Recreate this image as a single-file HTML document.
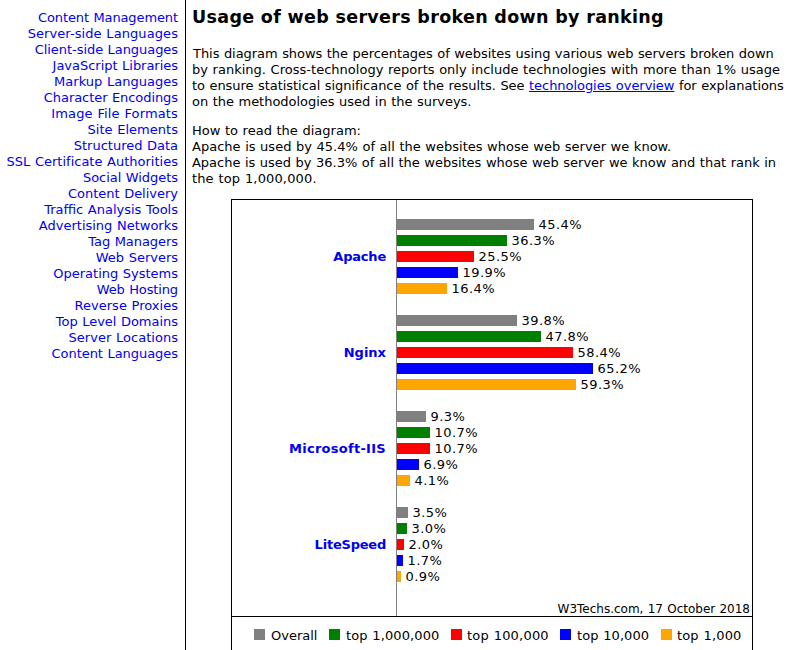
<!DOCTYPE html>
<html>
<head>
<meta charset="utf-8">
<title>Usage of web servers broken down by ranking</title>
<style>
html,body{margin:0;padding:0;background:#fff;}
body{width:790px;height:650px;overflow:hidden;position:relative;font-family:"DejaVu Sans","Liberation Sans",sans-serif;font-size:13px;line-height:16px;color:#000;word-spacing:0.44px;}
a{color:#0000ee;}
#side{position:absolute;left:0;top:10px;width:178px;text-align:right;}
#side a{display:block;height:16px;line-height:16px;text-decoration:none;white-space:nowrap;}
#vline{position:absolute;left:185px;top:0;width:1px;height:650px;background:#000;}
#main{position:absolute;left:192px;top:0;width:598px;}
h1{position:absolute;left:0;top:5px;margin:0;font-size:17.5px;line-height:24px;font-weight:bold;white-space:nowrap;word-spacing:0;}
.p{position:absolute;left:0;white-space:nowrap;}
.p div{height:16px;line-height:16px;}
#p1{top:46px;}
#p2{top:123px;}
#chart{position:absolute;left:231px;top:199px;width:520px;height:460px;border:1px solid #000;}
#axis{position:absolute;left:396px;top:200px;width:1px;height:416px;background:#808080;}
#hline{position:absolute;left:232px;top:616px;width:520px;height:1px;background:#000;}
.bar{position:absolute;left:397px;height:11px;}
.g{background:#808080;}.gr{background:#008000;}.r{background:#ff0000;}.b{background:#0000ff;}.o{background:#ffa500;}
.v{position:absolute;height:16px;line-height:16px;white-space:nowrap;}
.n{position:absolute;left:200px;width:186px;text-align:right;font-weight:bold;height:16px;line-height:16px;white-space:nowrap;}
.n a{text-decoration:none;}
#credit{position:absolute;left:500px;width:250px;text-align:right;top:601px;font-size:12px;line-height:16px;white-space:nowrap;}
.lg{position:absolute;top:629px;width:11px;height:11px;}
.lt{position:absolute;top:628px;height:16px;line-height:16px;white-space:nowrap;}
</style>
</head>
<body>
<div id="side">
<a href="#" style="letter-spacing:-0.106px;">Content Management</a>
<a href="#" style="letter-spacing:0.081px;">Server-side Languages</a>
<a href="#" style="letter-spacing:-0.057px;">Client-side Languages</a>
<a href="#" style="letter-spacing:-0.025px;">JavaScript Libraries</a>
<a href="#" style="letter-spacing:0.019px;">Markup Languages</a>
<a href="#" style="letter-spacing:-0.068px;">Character Encodings</a>
<a href="#" style="letter-spacing:0.139px;">Image File Formats</a>
<a href="#" style="letter-spacing:0.023px;">Site Elements</a>
<a href="#" style="letter-spacing:-0.007px;">Structured Data</a>
<a href="#" style="letter-spacing:0.007px;">SSL Certificate Authorities</a>
<a href="#" style="letter-spacing:-0.043px;">Social Widgets</a>
<a href="#" style="letter-spacing:-0.012px;">Content Delivery</a>
<a href="#">Traffic Analysis Tools</a>
<a href="#">Advertising Networks</a>
<a href="#" style="letter-spacing:-0.058px;">Tag Managers</a>
<a href="#" style="letter-spacing:-0.009px;">Web Servers</a>
<a href="#" style="letter-spacing:-0.006px;">Operating Systems</a>
<a href="#" style="letter-spacing:-0.127px;">Web Hosting</a>
<a href="#" style="letter-spacing:0.027px;">Reverse Proxies</a>
<a href="#" style="letter-spacing:-0.024px;">Top Level Domains</a>
<a href="#" style="letter-spacing:0.031px;">Server Locations</a>
<a href="#" style="letter-spacing:-0.041px;">Content Languages</a>
</div>
<div id="vline"></div>
<div id="main">
<h1 style="letter-spacing:0.319px;">Usage of web servers broken down by ranking</h1>
<div class="p" id="p1">
<div style="padding-left:1px;letter-spacing:-0.049px;">This diagram shows the percentages of websites using various web servers broken down</div>
<div style="letter-spacing:0.016px;">by ranking. Cross-technology reports only include technologies with more than 1% usage</div>
<div style="letter-spacing:-0.048px;">to ensure statistical significance of the results. See <a href="#">technologies overview</a> for explanations</div>
<div style="letter-spacing:-0.024px;">on the methodologies used in the surveys.</div>
</div>
<div class="p" id="p2">
<div style="letter-spacing:0.008px;">How to read the diagram:</div>
<div style="letter-spacing:0.009px;">Apache is used by 45.4% of all the websites whose web server we know.</div>
<div style="letter-spacing:-0.019px;">Apache is used by 36.3% of all the websites whose web server we know and that rank in</div>
<div style="letter-spacing:0.144px;">the top 1,000,000.</div>
</div>
</div>
<div id="chart"></div>
<div id="axis"></div>
<div id="hline"></div>
<div id="bars">
<div class="n" style="top:249px;letter-spacing:-0.200px;"><a href="#">Apache</a></div>
<div class="bar g" style="top:219px;width:137px"></div><div class="v" style="left:538.6px;top:217px;letter-spacing:0.400px;">45.4%</div>
<div class="bar gr" style="top:235px;width:110px"></div><div class="v" style="left:511.6px;top:233px;letter-spacing:0.400px;">36.3%</div>
<div class="bar r" style="top:251px;width:77px"></div><div class="v" style="left:478.6px;top:249px;letter-spacing:0.400px;">25.5%</div>
<div class="bar b" style="top:267px;width:61px"></div><div class="v" style="left:462.6px;top:265px;letter-spacing:0.400px;">19.9%</div>
<div class="bar o" style="top:283px;width:50px"></div><div class="v" style="left:451.6px;top:281px;letter-spacing:0.400px;">16.4%</div>
<div class="n" style="top:345px;"><a href="#">Nginx</a></div>
<div class="bar g" style="top:315px;width:120px"></div><div class="v" style="left:521.6px;top:313px;letter-spacing:0.400px;">39.8%</div>
<div class="bar gr" style="top:331px;width:144px"></div><div class="v" style="left:545.6px;top:329px;letter-spacing:0.400px;">47.8%</div>
<div class="bar r" style="top:347px;width:176px"></div><div class="v" style="left:577.6px;top:345px;letter-spacing:0.400px;">58.4%</div>
<div class="bar b" style="top:363px;width:196px"></div><div class="v" style="left:597.6px;top:361px;letter-spacing:0.400px;">65.2%</div>
<div class="bar o" style="top:379px;width:179px"></div><div class="v" style="left:580.6px;top:377px;letter-spacing:0.400px;">59.3%</div>
<div class="n" style="top:441px;letter-spacing:0.280px;"><a href="#">Microsoft-IIS</a></div>
<div class="bar g" style="top:411px;width:29px"></div><div class="v" style="left:430.6px;top:409px;letter-spacing:0.400px;">9.3%</div>
<div class="bar gr" style="top:427px;width:33px"></div><div class="v" style="left:434.6px;top:425px;letter-spacing:0.400px;">10.7%</div>
<div class="bar r" style="top:443px;width:33px"></div><div class="v" style="left:434.6px;top:441px;letter-spacing:0.400px;">10.7%</div>
<div class="bar b" style="top:459px;width:22px"></div><div class="v" style="left:423.6px;top:457px;letter-spacing:0.400px;">6.9%</div>
<div class="bar o" style="top:475px;width:13px"></div><div class="v" style="left:414.6px;top:473px;letter-spacing:0.400px;">4.1%</div>
<div class="n" style="top:537px;letter-spacing:-0.220px;"><a href="#">LiteSpeed</a></div>
<div class="bar g" style="top:507px;width:11px"></div><div class="v" style="left:412.6px;top:505px;letter-spacing:0.400px;">3.5%</div>
<div class="bar gr" style="top:523px;width:10px"></div><div class="v" style="left:411.6px;top:521px;letter-spacing:0.400px;">3.0%</div>
<div class="bar r" style="top:539px;width:7px"></div><div class="v" style="left:408.6px;top:537px;letter-spacing:0.400px;">2.0%</div>
<div class="bar b" style="top:555px;width:6px"></div><div class="v" style="left:407.6px;top:553px;letter-spacing:0.400px;">1.7%</div>
<div class="bar o" style="top:571px;width:4px"></div><div class="v" style="left:405.6px;top:569px;letter-spacing:0.400px;">0.9%</div>
<div id="credit">W3Techs.com, 17 October 2018</div>
<div class="lg g" style="left:254px"></div><div class="lt" style="left:271px;">Overall</div>
<div class="lg gr" style="left:329px"></div><div class="lt" style="left:346px;letter-spacing:0.110px;">top 1,000,000</div>
<div class="lg r" style="left:451px"></div><div class="lt" style="left:467px;letter-spacing:0.200px;">top 100,000</div>
<div class="lg b" style="left:560px"></div><div class="lt" style="left:577px;letter-spacing:0.080px;">top 10,000</div>
<div class="lg o" style="left:661px"></div><div class="lt" style="left:677px;letter-spacing:0.160px;">top 1,000</div>
</div>
</body>
</html>
